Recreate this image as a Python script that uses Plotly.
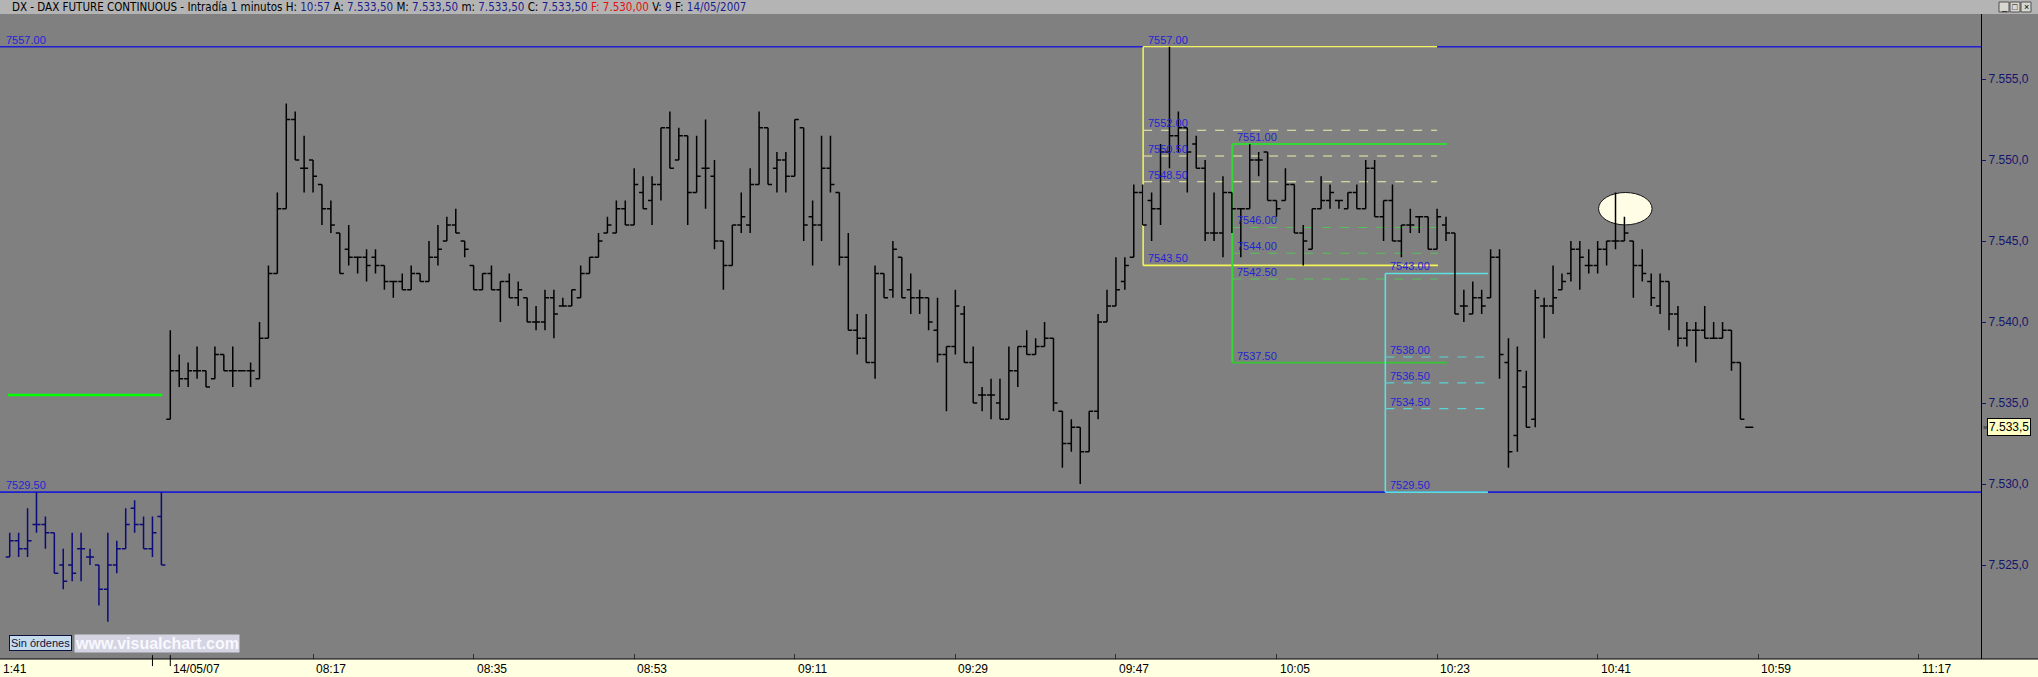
import plotly.graph_objects as go

# ---------------- DATA ----------------
# previous session (11/05) last bars, bar index -18..-1
prev_x = list(range(-18, 0))
prev_open = [7525.5, 7526.5, 7526.0, 7527.5, 7527.5, 7527.0, 7525.0, 7525.0, 7526.0,
             7525.5, 7525.0, 7523.5, 7525.0, 7526.0, 7528.5, 7527.5, 7526.0, 7528.0]
prev_high = [7527.0, 7527.0, 7528.5, 7529.5, 7528.0, 7527.0, 7526.0, 7527.0, 7527.0,
             7526.0, 7525.0, 7527.0, 7526.5, 7528.5, 7529.0, 7528.0, 7528.0, 7529.5]
prev_low = [7525.5, 7525.5, 7525.5, 7527.0, 7526.0, 7524.5, 7523.5, 7524.0, 7524.0,
            7525.0, 7522.5, 7521.5, 7524.5, 7526.0, 7527.0, 7526.0, 7525.5, 7525.0]
prev_close = [7526.5, 7526.0, 7526.5, 7527.5, 7527.0, 7524.5, 7524.0, 7524.5, 7526.0,
              7525.5, 7523.5, 7525.0, 7526.0, 7527.5, 7527.5, 7526.0, 7527.0, 7525.0]

# session 14/05/07, 1-minute bars from 08:01 (index 0)
today_x = list(range(0, 178))
today_open = [
    7534.0, 7537.0, 7536.5, 7537.0, 7537.0, 7536.5, 7538.0, 7537.0, 7537.0, 7537.0,
    7536.5, 7539.0, 7543.0, 7547.0, 7552.5, 7549.5, 7550.0, 7548.5, 7547.0, 7545.5,
    7544.5, 7544.0, 7544.0, 7544.0, 7543.5, 7542.5, 7542.5, 7542.0, 7543.0, 7542.5,
    7544.0, 7545.0, 7546.0, 7545.0, 7543.5, 7542.0, 7543.0, 7542.0, 7542.5, 7541.5,
    7541.5, 7540.0, 7540.0, 7541.5, 7541.0, 7541.0, 7541.5, 7543.0, 7544.0, 7545.5,
    7545.5, 7547.0, 7546.0, 7548.0, 7547.5, 7548.5, 7552.0, 7550.0, 7551.5, 7548.0,
    7549.5, 7549.0, 7545.0, 7543.5, 7546.0, 7546.0, 7548.5, 7552.0, 7549.5, 7550.0,
    7549.0, 7552.0, 7546.5, 7546.0, 7549.5, 7548.0, 7544.0, 7539.5, 7539.0, 7537.5,
    7543.0, 7542.0, 7544.0, 7542.0, 7541.5, 7541.5, 7539.5, 7538.0, 7538.5, 7540.5,
    7537.5, 7535.5, 7535.5, 7535.0, 7534.0, 7537.0, 7538.5, 7538.0, 7538.5, 7539.0,
    7534.5, 7532.5, 7533.5, 7532.0, 7534.5, 7540.0, 7541.0, 7542.5, 7544.0, 7548.0,
    7547.5, 7547.0, 7550.5, 7551.5, 7552.0, 7551.0, 7549.5, 7545.5, 7545.5, 7548.0,
    7547.0, 7547.0, 7550.0, 7550.5, 7547.5, 7547.5, 7548.5, 7545.5, 7544.5, 7547.0,
    7547.5, 7547.5, 7547.0, 7548.0, 7547.0, 7549.5, 7546.5, 7547.5, 7545.0, 7546.0,
    7546.5, 7546.5, 7544.5, 7546.0, 7545.5, 7541.0, 7540.5, 7541.5, 7541.5, 7544.0,
    7537.5, 7533.0, 7536.0, 7534.0, 7541.0, 7541.0, 7542.0, 7543.0, 7544.5, 7543.5,
    7543.5, 7544.5, 7545.0, 7545.0, 7545.0, 7543.5, 7542.5, 7541.0, 7542.5, 7540.5,
    7539.0, 7539.5, 7539.5, 7539.0, 7539.0, 7539.5, 7537.5, 7533.5]
today_high = [
    7539.5, 7538.0, 7537.5, 7538.5, 7537.0, 7538.5, 7538.0, 7538.5, 7537.0, 7537.5,
    7540.0, 7543.5, 7548.0, 7553.5, 7553.0, 7551.5, 7550.0, 7548.5, 7547.5, 7545.5,
    7546.0, 7544.0, 7544.5, 7544.5, 7543.5, 7542.5, 7543.0, 7543.5, 7543.0, 7545.0,
    7546.0, 7546.5, 7547.0, 7545.0, 7543.5, 7543.0, 7543.5, 7542.5, 7543.0, 7542.5,
    7541.5, 7541.0, 7542.0, 7542.0, 7541.5, 7542.0, 7543.5, 7544.0, 7545.5, 7546.5,
    7547.5, 7547.5, 7549.5, 7549.0, 7549.0, 7552.0, 7553.0, 7552.0, 7551.5, 7551.5,
    7552.5, 7550.0, 7545.0, 7546.0, 7548.0, 7549.5, 7553.0, 7552.0, 7550.5, 7550.5,
    7552.5, 7552.0, 7547.5, 7551.5, 7551.5, 7548.0, 7545.5, 7540.5, 7540.5, 7543.5,
    7543.0, 7545.0, 7544.0, 7543.0, 7542.0, 7541.5, 7541.5, 7538.5, 7542.0, 7541.0,
    7538.5, 7536.0, 7536.5, 7536.5, 7538.5, 7538.5, 7539.5, 7539.0, 7540.0, 7539.0,
    7534.5, 7534.0, 7533.5, 7534.5, 7540.5, 7542.0, 7544.0, 7544.0, 7548.5, 7548.5,
    7548.0, 7551.0, 7557.0, 7553.0, 7552.0, 7551.5, 7550.0, 7548.0, 7549.0, 7548.0,
    7547.0, 7551.0, 7550.5, 7550.5, 7547.5, 7549.5, 7548.5, 7546.0, 7547.0, 7549.0,
    7548.5, 7547.5, 7548.0, 7548.5, 7550.0, 7550.0, 7547.5, 7548.5, 7546.0, 7547.0,
    7546.5, 7546.5, 7547.0, 7546.5, 7545.5, 7542.0, 7542.5, 7542.0, 7544.5, 7544.5,
    7539.0, 7538.5, 7537.0, 7542.0, 7541.5, 7543.5, 7543.0, 7545.0, 7545.0, 7544.5,
    7545.0, 7545.0, 7548.0, 7546.5, 7545.0, 7544.5, 7543.0, 7543.0, 7542.5, 7541.0,
    7540.0, 7540.0, 7541.0, 7540.0, 7540.0, 7539.5, 7537.5, 7533.5]
today_low = [
    7534.0, 7536.0, 7536.0, 7536.5, 7536.0, 7536.5, 7537.0, 7536.0, 7537.0, 7536.0,
    7536.5, 7539.0, 7543.0, 7547.0, 7550.0, 7548.0, 7548.0, 7546.0, 7545.5, 7543.0,
    7543.5, 7543.0, 7542.5, 7543.0, 7542.0, 7541.5, 7542.0, 7542.0, 7542.5, 7542.5,
    7543.5, 7545.0, 7545.5, 7544.0, 7542.0, 7542.0, 7542.0, 7540.0, 7541.5, 7541.0,
    7540.0, 7539.5, 7539.5, 7539.0, 7541.0, 7541.0, 7541.5, 7543.0, 7544.0, 7545.5,
    7545.5, 7546.0, 7546.0, 7547.0, 7546.0, 7547.5, 7549.5, 7550.0, 7546.0, 7548.0,
    7547.0, 7544.5, 7542.0, 7543.5, 7545.5, 7545.5, 7548.5, 7548.5, 7548.0, 7548.0,
    7549.0, 7545.0, 7543.5, 7545.0, 7548.0, 7543.5, 7539.5, 7538.0, 7537.5, 7536.5,
    7541.5, 7541.5, 7541.5, 7540.5, 7540.5, 7539.5, 7537.5, 7534.5, 7538.0, 7537.5,
    7535.0, 7534.5, 7534.0, 7534.0, 7534.0, 7536.0, 7538.0, 7538.0, 7538.5, 7534.5,
    7531.0, 7532.0, 7530.0, 7532.0, 7534.0, 7540.0, 7541.0, 7542.0, 7544.0, 7546.0,
    7545.0, 7546.0, 7549.5, 7550.5, 7548.0, 7549.5, 7545.0, 7545.0, 7544.0, 7545.5,
    7544.0, 7547.0, 7549.0, 7547.5, 7546.5, 7547.5, 7545.5, 7543.5, 7544.5, 7547.0,
    7547.0, 7547.0, 7547.0, 7547.0, 7547.0, 7546.5, 7545.0, 7545.0, 7544.0, 7545.5,
    7545.5, 7544.5, 7544.5, 7545.0, 7540.5, 7540.0, 7540.5, 7540.5, 7541.5, 7536.5,
    7531.0, 7532.0, 7533.5, 7533.5, 7539.0, 7540.5, 7542.0, 7542.5, 7542.0, 7543.0,
    7543.0, 7543.5, 7544.5, 7545.0, 7541.5, 7542.5, 7541.0, 7540.5, 7539.5, 7538.5,
    7538.5, 7537.5, 7539.0, 7539.0, 7539.0, 7537.0, 7534.0, 7533.5]
today_close = [
    7537.0, 7536.5, 7537.0, 7537.0, 7536.0, 7538.0, 7537.0, 7537.0, 7537.0, 7537.0,
    7539.0, 7543.0, 7547.0, 7552.5, 7550.0, 7549.5, 7549.0, 7547.0, 7546.0, 7543.0,
    7544.0, 7544.0, 7543.5, 7543.5, 7542.5, 7542.5, 7542.0, 7543.0, 7542.5, 7544.0,
    7544.5, 7546.0, 7545.5, 7544.5, 7542.0, 7543.0, 7542.0, 7542.5, 7541.5, 7542.0,
    7540.0, 7540.0, 7541.5, 7540.5, 7541.0, 7542.0, 7543.0, 7544.0, 7545.0, 7546.0,
    7547.0, 7546.0, 7548.5, 7547.0, 7548.5, 7552.0, 7549.5, 7551.5, 7548.0, 7549.0,
    7549.5, 7545.0, 7543.5, 7546.0, 7546.5, 7548.5, 7552.0, 7548.5, 7550.0, 7549.0,
    7552.5, 7546.0, 7546.0, 7549.5, 7548.5, 7544.0, 7539.5, 7539.0, 7537.5, 7543.0,
    7541.5, 7544.5, 7541.5, 7541.5, 7541.5, 7540.0, 7538.0, 7538.5, 7541.0, 7537.5,
    7535.0, 7535.5, 7535.5, 7534.0, 7537.0, 7538.5, 7538.0, 7538.5, 7539.0, 7535.0,
    7532.5, 7533.5, 7532.0, 7534.5, 7540.0, 7541.0, 7542.0, 7543.5, 7548.0, 7546.0,
    7547.0, 7550.5, 7551.5, 7552.0, 7550.5, 7549.5, 7545.5, 7545.5, 7548.0, 7547.0,
    7547.0, 7550.0, 7550.0, 7547.5, 7547.0, 7548.5, 7545.5, 7545.0, 7547.0, 7547.5,
    7548.0, 7547.5, 7548.0, 7547.0, 7549.5, 7546.5, 7547.5, 7545.0, 7546.0, 7546.0,
    7546.5, 7544.5, 7546.5, 7545.5, 7540.5, 7541.0, 7541.5, 7541.0, 7544.0, 7538.0,
    7532.0, 7537.0, 7533.5, 7541.5, 7541.0, 7541.5, 7542.5, 7544.5, 7544.0, 7543.5,
    7544.5, 7545.0, 7545.0, 7545.5, 7543.5, 7543.0, 7541.5, 7542.5, 7540.5, 7539.0,
    7539.5, 7539.5, 7539.0, 7539.0, 7539.5, 7537.5, 7534.0, 7533.5]

# horizontal reference lines
support_high = 7557.0
support_low = 7529.5
prev_day_level = 7535.5

# Fibonacci boxes: levels (price) and their labels
yellow_levels = [7557.0, 7551.84, 7550.25, 7548.66, 7543.5]
yellow_labels = ["7557.00", "7552.00", "7550.50", "7548.50", "7543.50"]
green_levels = [7551.0, 7545.84, 7544.25, 7542.66, 7537.5]
green_labels = ["7551.00", "7546.00", "7544.00", "7542.50", "7537.50"]
cyan_levels = [7543.0, 7537.84, 7536.25, 7534.66, 7529.5]
cyan_labels = ["7543.00", "7538.00", "7536.50", "7534.50", "7529.50"]

# highlighted top (ellipse) price band
ellipse_low = 7546.0
ellipse_high = 7548.0

last_price = 7533.5

# axes
x_tick_vals = [-19.09, 0, 16, 34, 52, 70, 88, 106, 124, 142, 160, 178, 196]
x_tick_text = ["1:41", "14/05/07", "08:17", "08:35", "08:53", "09:11", "09:29",
               "09:47", "10:05", "10:23", "10:41", "10:59", "11:17"]
day_sep_ticks = [-2, 0]
y_tick_vals = [7525, 7530, 7535, 7540, 7545, 7550, 7555]

header_parts = [("DX - DAX FUTURE CONTINUOUS - Intradía 1 minutos ", "#000000"),
                ("H: ", "#000000"), ("10:57 ", "#1c1c8c"),
                ("A: ", "#000000"), ("7.533,50 ", "#1c1c8c"),
                ("M: ", "#000000"), ("7.533,50 ", "#1c1c8c"),
                ("m: ", "#000000"), ("7.533,50 ", "#1c1c8c"),
                ("C: ", "#000000"), ("7.533,50 ", "#1c1c8c"),
                ("F: ", "#e01010"), ("7.530,00 ", "#e01010"),
                ("V: ", "#000000"), ("9 ", "#1c1c8c"),
                ("F: ", "#000000"), ("14/05/2007", "#1c1c8c")]

# ---------------- FIGURE ----------------
W, H = 2038, 677
ML, MR, MT, MB = 0, 57, 14, 18
X_RANGE = [-19.09, 202.97]
Y_RANGE = [7519.20, 7559.02]

fig = go.Figure()
fig.add_trace(go.Ohlc(
    x=prev_x, open=prev_open, high=prev_high, low=prev_low, close=prev_close,
    increasing=dict(line=dict(color="#0a0a78", width=1.5)),
    decreasing=dict(line=dict(color="#0a0a78", width=1.5)),
    tickwidth=0.45, hoverinfo="skip", showlegend=False))
fig.add_trace(go.Ohlc(
    x=today_x, open=today_open, high=today_high, low=today_low, close=today_close,
    increasing=dict(line=dict(color="#000000", width=1.5)),
    decreasing=dict(line=dict(color="#000000", width=1.5)),
    tickwidth=0.45, hoverinfo="skip", showlegend=False))

shapes = []
FONT = "Liberation Sans, Arial, sans-serif"
NARROW = "Liberation Sans Narrow, Arial Narrow, DejaVu Sans Condensed, sans-serif"
LBL = "#2424d4"

def hline(y, x0, x1, color, width=1.5, dash="solid", xref="x"):
    shapes.append(dict(type="line", xref=xref, yref="y", x0=x0, x1=x1, y0=y, y1=y,
                       line=dict(color=color, width=width, dash=dash), layer="below"))

def vline(x, y0, y1, color, width=1.5):
    shapes.append(dict(type="line", xref="x", yref="y", x0=x, x1=x, y0=y0, y1=y1,
                       line=dict(color=color, width=width), layer="below"))

# background bands (header, x-axis band)
shapes.append(dict(type="rect", xref="paper", yref="paper", x0=-0.01, x1=1.04,
                   y0=1.0, y1=1.03, fillcolor="#b4b4b4", line=dict(width=0), layer="below"))
shapes.append(dict(type="rect", xref="paper", yref="paper", x0=-0.01, x1=1.04,
                   y0=-0.04, y1=0.0, fillcolor="#ffffe2", line=dict(width=0), layer="below"))
shapes.append(dict(type="line", xref="paper", yref="paper", x0=0, x1=1.04, y0=0, y1=0,
                   line=dict(color="#000000", width=1.2), layer="above"))
for t in day_sep_ticks:
    shapes.append(dict(type="line", xref="x", yref="paper", x0=t, x1=t, y0=0.006, y1=-0.011,
                       line=dict(color="#000000", width=1), layer="above"))

# long support / resistance lines
hline(support_high, 0, 1, "#1e1ed2", 1.6, xref="paper")
hline(support_low, 0, 1, "#1e1ed2", 1.6, xref="paper")
hline(prev_day_level, -18.2, -0.9, "#00ff00", 2.6)

# yellow fibo box
YX0, YX1 = 109.05, 142.0
vline(YX0, yellow_levels[0], yellow_levels[-1], "#f4f45a")
hline(yellow_levels[0], YX0, YX1, "#f4f45a", 1.6)
hline(yellow_levels[-1], YX0, YX1 + 0.1, "#f4f45a", 1.6)
for lv in yellow_levels[1:-1]:
    hline(lv, YX0, YX1, "#eeeea8", 1.1, "dash")

# green fibo box
GX0, GX1 = 119.05, 143.1
vline(GX0, green_levels[0], green_levels[-1], "#34d834", 2)
hline(green_levels[0], GX0, GX1, "#34d834", 2)
hline(green_levels[-1], GX0, GX1, "#34c834", 1.6)
for lv in green_levels[1:-1]:
    hline(lv, GX0, 142.1, "#58c058", 1.1, "dash")

# cyan fibo box
CX0, CX1 = 136.2, 147.7
vline(CX0, cyan_levels[0], cyan_levels[-1], "#5ee0e0", 1.6)
hline(cyan_levels[0], CX0, CX1, "#5ee0e0", 1.6)
hline(cyan_levels[-1], CX0, CX1, "#5ee0e0", 1.6)
for lv in cyan_levels[1:-1]:
    hline(lv, CX0, CX1, "#58d4d4", 1.1, "dash")

# ellipse marking the top
shapes.append(dict(type="circle", xref="x", yref="y", x0=160.1, x1=166.1,
                   y0=ellipse_low, y1=ellipse_high, fillcolor="#fffde6",
                   line=dict(color="#101010", width=1), layer="below"))

# window buttons (top right)
for bx0 in [1999, 2010, 2021]:
    shapes.append(dict(type="rect", xref="paper", yref="paper",
                       x0=(bx0 - ML) / (W - ML - MR), x1=(bx0 + 10 - ML) / (W - ML - MR),
                       y0=1 + 2 / (H - MT - MB), y1=1 + 12 / (H - MT - MB),
                       fillcolor="#d8d6d0", line=dict(color="#505050", width=1), layer="above"))

ann = []

def label(x, y, text, color=LBL, size=11):
    ann.append(dict(x=x, y=y, xref="x", yref="y", text=text, showarrow=False,
                    xanchor="left", yanchor="bottom", xshift=3, yshift=-1,
                    font=dict(family=FONT, size=size, color=color)))

for lv, tx in zip(yellow_levels, yellow_labels):
    label(YX0, lv, tx)
for lv, tx in zip(green_levels, green_labels):
    label(GX0, lv, tx)
for lv, tx in zip(cyan_levels, cyan_labels):
    label(CX0, lv, tx)

ann.append(dict(x=0, y=support_high, xref="paper", yref="y", text="7557.00", showarrow=False,
                xanchor="left", yanchor="bottom", xshift=4, yshift=-1,
                font=dict(family=FONT, size=11, color=LBL)))
ann.append(dict(x=0, y=support_low, xref="paper", yref="y", text="7529.50", showarrow=False,
                xanchor="left", yanchor="bottom", xshift=4, yshift=-1,
                font=dict(family=FONT, size=11, color=LBL)))

# x-axis labels (left-aligned to their tick, as in the original)
for xv, tx in zip(x_tick_vals, x_tick_text):
    ann.append(dict(x=xv, y=0, xref="x", yref="paper", text=tx, showarrow=False,
                    xanchor="left", yanchor="middle", xshift=1, yshift=-10,
                    font=dict(family=FONT, size=12, color="#000000")))

# header
header_html = "".join(f"<span style='color:{c}'>{t}</span>" for t, c in header_parts)
ann.append(dict(x=0, y=1, xref="paper", yref="paper", text=header_html, showarrow=False,
                xanchor="left", yanchor="middle", xshift=10, yshift=7,
                font=dict(family=NARROW, size=11.5, color="#000000")))

# last price tag on the price axis
ann.append(dict(x=1, y=last_price, xref="paper", yref="y", text="7.533,5", showarrow=False,
                xanchor="left", yanchor="middle", xshift=6,
                bgcolor="#ffffc4", bordercolor="#000000", borderwidth=1, borderpad=1,
                font=dict(family=FONT, size=12, color="#000000")))
ann.append(dict(x=1, y=last_price, xref="paper", yref="y", text="»", showarrow=False,
                xanchor="left", yanchor="middle", xshift=0,
                font=dict(family=FONT, size=8, color="#202020")))

# window button glyphs
for bx, g in zip([2004, 2015, 2026], ["_", "□", "×"]):
    ann.append(dict(x=(bx - ML) / (W - ML - MR), y=1, xref="paper", yref="paper", text=g,
                    showarrow=False, xanchor="center", yanchor="middle", yshift=7,
                    font=dict(family=FONT, size=9, color="#000000")))

# order box and watermark
ann.append(dict(x=0, y=0, xref="paper", yref="paper", text="Sin órdenes", showarrow=False,
                xanchor="left", yanchor="middle", xshift=9, yshift=16,
                bgcolor="#c6dcec", bordercolor="#101040", borderwidth=1, borderpad=1,
                font=dict(family=FONT, size=11, color="#101040")))
ann.append(dict(x=0, y=0, xref="paper", yref="paper", text="<b>www.visualchart.com</b>",
                showarrow=False, xanchor="left", yanchor="middle", xshift=74, yshift=16,
                bgcolor="#d4d4e2", borderpad=0,
                font=dict(family=FONT, size=16, color="#f8f8ff")))

fig.update_layout(
    width=W, height=H,
    margin=dict(l=ML, r=MR, t=MT, b=MB, pad=0),
    paper_bgcolor="#808080", plot_bgcolor="#808080",
    separators=",.",
    showlegend=False,
    shapes=shapes, annotations=ann,
    xaxis=dict(range=X_RANGE, rangeslider=dict(visible=False), showgrid=False,
               zeroline=False, showline=False, tickmode="array", tickvals=x_tick_vals[2:],
               ticks="inside", ticklen=5, tickcolor="#303030", showticklabels=False),
    yaxis=dict(range=Y_RANGE, side="right", showgrid=False, zeroline=False,
               showline=True, linecolor="#000000", linewidth=1.2,
               tickmode="array", tickvals=y_tick_vals, tickformat=",.1f",
               ticks="outside", ticklen=4, tickcolor="#14146e",
               tickfont=dict(family=FONT, size=12, color="#14146e")),
)

fig.write_html("out.html", config={"displayModeBar": False},
               post_script="document.body.style.margin='0';document.body.style.overflow='hidden';")
